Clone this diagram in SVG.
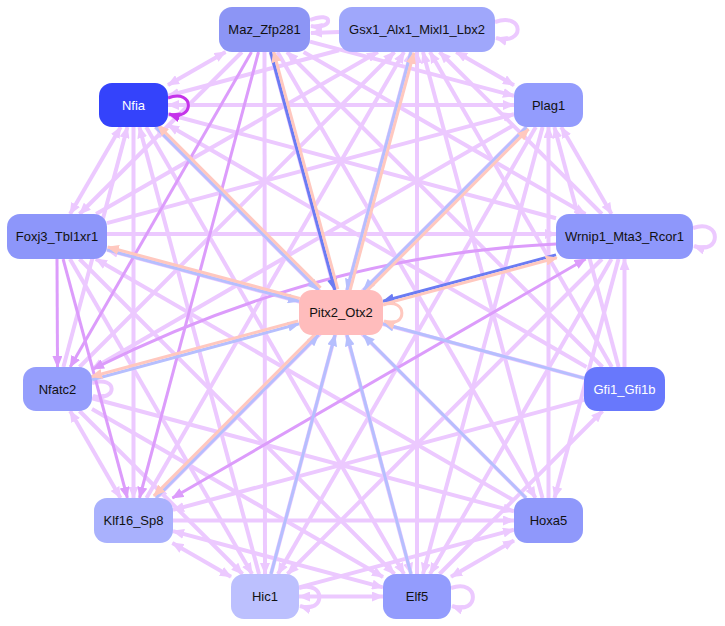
<svg xmlns="http://www.w3.org/2000/svg" width="725" height="626" viewBox="0 0 725 626">
<style>
.ed path{fill:none}
.lv{stroke:#ecc9ff;stroke-width:4}
.lv.e{marker-end:url(#ml)}.lv.s{marker-start:url(#ml)}
.mv{stroke:#dc9cfb;stroke-width:3}
.mv.e{marker-end:url(#mm)}.mv.s{marker-start:url(#mm)}
.pk{stroke:#ffc8bf;stroke-width:3;marker-end:url(#mp)}
.lb{stroke:#b6bffe;stroke-width:3;marker-end:url(#mb)}
.bl{stroke:#6b7cf3;stroke-width:3;marker-end:url(#mB)}
.dp{stroke:#c534ea;stroke-width:3;marker-end:url(#md)}
.node text{font-family:"Liberation Sans",Arial,sans-serif;font-size:13px;text-anchor:middle;fill:#111}
.node text.w{fill:#fff}
</style>
<defs>
<marker id="ml" markerUnits="userSpaceOnUse" markerWidth="12" markerHeight="10" refX="11" refY="5" orient="auto-start-reverse"><path d="M0,0 L12,5 L0,10 z" fill="#ecc9ff"/></marker>
<marker id="mm" markerUnits="userSpaceOnUse" markerWidth="12" markerHeight="10" refX="11" refY="5" orient="auto-start-reverse"><path d="M0,0 L12,5 L0,10 z" fill="#dc9cfb"/></marker>
<marker id="mp" markerUnits="userSpaceOnUse" markerWidth="12" markerHeight="10" refX="11" refY="5" orient="auto-start-reverse"><path d="M0,0 L12,5 L0,10 z" fill="#ffc8bf"/></marker>
<marker id="mb" markerUnits="userSpaceOnUse" markerWidth="12" markerHeight="10" refX="11" refY="5" orient="auto-start-reverse"><path d="M0,0 L12,5 L0,10 z" fill="#b6bffe"/></marker>
<marker id="mB" markerUnits="userSpaceOnUse" markerWidth="12" markerHeight="10" refX="11" refY="5" orient="auto-start-reverse"><path d="M0,0 L12,5 L0,10 z" fill="#6b7cf3"/></marker>
<marker id="md" markerUnits="userSpaceOnUse" markerWidth="12" markerHeight="10" refX="11" refY="5" orient="auto-start-reverse"><path d="M0,0 L12,5 L0,10 z" fill="#c534ea"/></marker>
</defs>
<rect width="725" height="626" fill="#fff"/>
<g id="edges" class="ed">
<path class="lv e" d="M310,41.6 L514,95.8"/>
<path class="lv e" d="M303.6,52 L585.4,214"/>
<path class="lv e" d="M602.5,367 L287,52"/>
<path class="lv e" d="M277.5,52 L535.5,498"/>
<path class="lv e" d="M270.6,52 L411,574"/>
<path class="lv e" d="M264.5,52 L265,574"/>
<path class="lv e" d="M241.9,52 L79.6,214"/>
<path class="lv s e" d="M225.5,52 L168,85.1"/>
<path class="lv s e" d="M456.2,52 L514,85.2"/>
<path class="lv e" d="M601.9,214 L439.6,52"/>
<path class="lv e" d="M611.8,367 L430,52"/>
<path class="lv e" d="M542.5,498 L423,52"/>
<path class="lv e" d="M417,574 L417,52"/>
<path class="lv e" d="M271,574 L411,52"/>
<path class="lv e" d="M146.5,498 L404,52"/>
<path class="lv e" d="M79.5,367 L394.5,52"/>
<path class="lv e" d="M96.1,214 L377.9,52"/>
<path class="lv e" d="M339,50.3 L168,95.8"/>
<path class="lv s e" d="M561.2,127 L611.5,214"/>
<path class="lv e" d="M618.6,367 L554.4,127"/>
<path class="lv e" d="M548.5,498 L548.5,127"/>
<path class="lv e" d="M542.6,127 L423,574"/>
<path class="lv e" d="M535.8,127 L278,574"/>
<path class="lv e" d="M526.5,127 L156,498"/>
<path class="lv e" d="M514,125 L92,369"/>
<path class="lv e" d="M107,223.1 L514,114.2"/>
<path class="lv s e" d="M514,105 L168,105"/>
<path class="lv e" d="M624.5,367 L624.5,259"/>
<path class="lv e" d="M618.5,259 L554.5,498"/>
<path class="lv e" d="M611.5,259 L430,574"/>
<path class="lv e" d="M602,259 L287.5,574"/>
<path class="lv e" d="M107,234 L556,234"/>
<path class="lv e" d="M556,218.2 L168,114.2"/>
<path class="lv e" d="M439.5,574 L602.5,411"/>
<path class="lv e" d="M584,399.9 L173,509.9"/>
<path class="lv e" d="M584,378.1 L107,249.9"/>
<path class="lv e" d="M586.5,367 L168,125"/>
<path class="lv s e" d="M514,540.4 L451,576.8"/>
<path class="lv e" d="M299,587.4 L514,529.7"/>
<path class="lv e" d="M173,520.5 L514,520.5"/>
<path class="lv e" d="M92,398.2 L514,511.3"/>
<path class="lv e" d="M514,500.6 L95.9,259"/>
<path class="lv e" d="M526,498 L155.5,127"/>
<path class="lv s e" d="M299,596.5 L383,596.5"/>
<path class="lv s e" d="M383,587.4 L173,531.1"/>
<path class="lv e" d="M92,408.9 L383,576.9"/>
<path class="lv e" d="M79.5,259 L394.5,574"/>
<path class="lv e" d="M146.2,127 L404,574"/>
<path class="lv s e" d="M231,576.8 L172.4,543"/>
<path class="lv e" d="M79.5,411 L242.5,574"/>
<path class="lv e" d="M70,259 L252,574"/>
<path class="lv e" d="M259,574 L139.4,127"/>
<path class="lv s e" d="M120.5,498 L70.2,411"/>
<path class="lv e" d="M133.5,127 L133.5,498"/>
<path class="lv e" d="M63.4,367 L127.4,127"/>
<path class="lv s e" d="M70.1,214 L120.7,127"/>
<path class="lv e" d="M339,32 L311,33"/>
<path class="lv e" d="M310,20 C334,10 334,30 311,26"/>
<path class="lv e" d="M495,22 C525,12 525,46 496,38"/>
<path class="lv e" d="M693,228 C722,218 722,256 694,246"/>
<path class="lv e" d="M92,383 C118,375 118,402 93,396"/>
<path class="lv e" d="M299,588 C326,580 326,614 300,606"/>
<path class="lv e" d="M451,588 C480,578 480,616 452,606"/>
<path class="mv e" d="M258.5,52 L139.5,498"/>
<path class="mv e" d="M251.5,52 L70.2,367"/>
<path class="mv s e" d="M585.6,259 L172.4,498"/>
<path class="mv e" d="M556,244 Q320,255 93,369"/>
<path class="mv e" d="M63.1,259 L127.4,498"/>
<path class="mv e" d="M57,259 L57.5,367"/>
<path class="bl" d="M270.6,52 L334.9,290"/>
<path class="pk" d="M337.8,289.2 L273.5,51.2"/>
<path class="lb" d="M411,52 L347,290"/>
<path class="pk" d="M349.9,290.8 L413.9,52.8"/>
<path class="lb" d="M526.5,127 L363.5,290"/>
<path class="pk" d="M365.6,292.1 L528.6,129.1"/>
<path class="bl" d="M556,254.9 L383,301.2"/>
<path class="pk" d="M383.8,304.1 L556.8,257.8"/>
<path class="lb" d="M584,378.1 L383,323.8"/>
<path class="lb" d="M526,498 L363.5,335"/>
<path class="lb" d="M411,574 L347,335"/>
<path class="lb" d="M271,574 L335,335"/>
<path class="lb" d="M156,498 L318.5,335"/>
<path class="pk" d="M316.4,332.9 L153.9,495.9"/>
<path class="lb" d="M92,379.7 L299,323.8"/>
<path class="pk" d="M298.2,320.9 L91.2,376.8"/>
<path class="lb" d="M107,249.9 L299,301.3"/>
<path class="pk" d="M299.8,298.4 L107.8,247"/>
<path class="lb" d="M155.5,127 L318.5,290"/>
<path class="pk" d="M320.6,287.9 L157.6,124.9"/>
<path class="pk" d="M383,305 C408,296 408,330 384,321"/>
<path class="dp" d="M168,98 C195,88 195,122 169,114"/>
</g>
<g id="n_Maz_Zfp281" class="node"><rect x="219" y="7" width="91" height="45" rx="13" fill="#8c95f5"/><text x="264.5" y="34">Maz_Zfp281</text></g>
<g id="n_Gsx1_Alx1_Mixl1_Lbx2" class="node"><rect x="339" y="7" width="156" height="45" rx="13" fill="#9fa7fb"/><text x="417" y="34">Gsx1_Alx1_Mixl1_Lbx2</text></g>
<g id="n_Plag1" class="node"><rect x="514" y="83" width="69" height="44" rx="13" fill="#939cfd"/><text x="548.5" y="109.5">Plag1</text></g>
<g id="n_Wrnip1_Mta3_Rcor1" class="node"><rect x="556" y="214" width="137" height="45" rx="13" fill="#8e97fb"/><text x="624.5" y="241">Wrnip1_Mta3_Rcor1</text></g>
<g id="n_Gfi1_Gfi1b" class="node"><rect x="584" y="367" width="81" height="44" rx="13" fill="#6878fc"/><text class="w" x="624.5" y="393.5">Gfi1_Gfi1b</text></g>
<g id="n_Hoxa5" class="node"><rect x="514" y="498" width="69" height="45" rx="13" fill="#8f98fb"/><text x="548.5" y="525">Hoxa5</text></g>
<g id="n_Elf5" class="node"><rect x="383" y="574" width="68" height="45" rx="13" fill="#939cfd"/><text x="417" y="601">Elf5</text></g>
<g id="n_Hic1" class="node"><rect x="231" y="574" width="68" height="45" rx="13" fill="#bcc0fe"/><text x="265" y="601">Hic1</text></g>
<g id="n_Klf16_Sp8" class="node"><rect x="94" y="498" width="79" height="45" rx="13" fill="#a9b1fd"/><text x="133.5" y="525">Klf16_Sp8</text></g>
<g id="n_Nfatc2" class="node"><rect x="23" y="367" width="69" height="44" rx="13" fill="#959efc"/><text x="57.5" y="393.5">Nfatc2</text></g>
<g id="n_Foxj3_Tbl1xr1" class="node"><rect x="7" y="214" width="100" height="45" rx="13" fill="#8d96fa"/><text x="57" y="241">Foxj3_Tbl1xr1</text></g>
<g id="n_Nfia" class="node"><rect x="99" y="83" width="69" height="44" rx="13" fill="#3443fb"/><text class="w" x="133.5" y="109.5">Nfia</text></g>
<g id="n_Pitx2_Otx2" class="node"><rect x="299" y="290" width="84" height="45" rx="13" fill="#ffbcbc"/><text x="341" y="317">Pitx2_Otx2</text></g>
</svg>
